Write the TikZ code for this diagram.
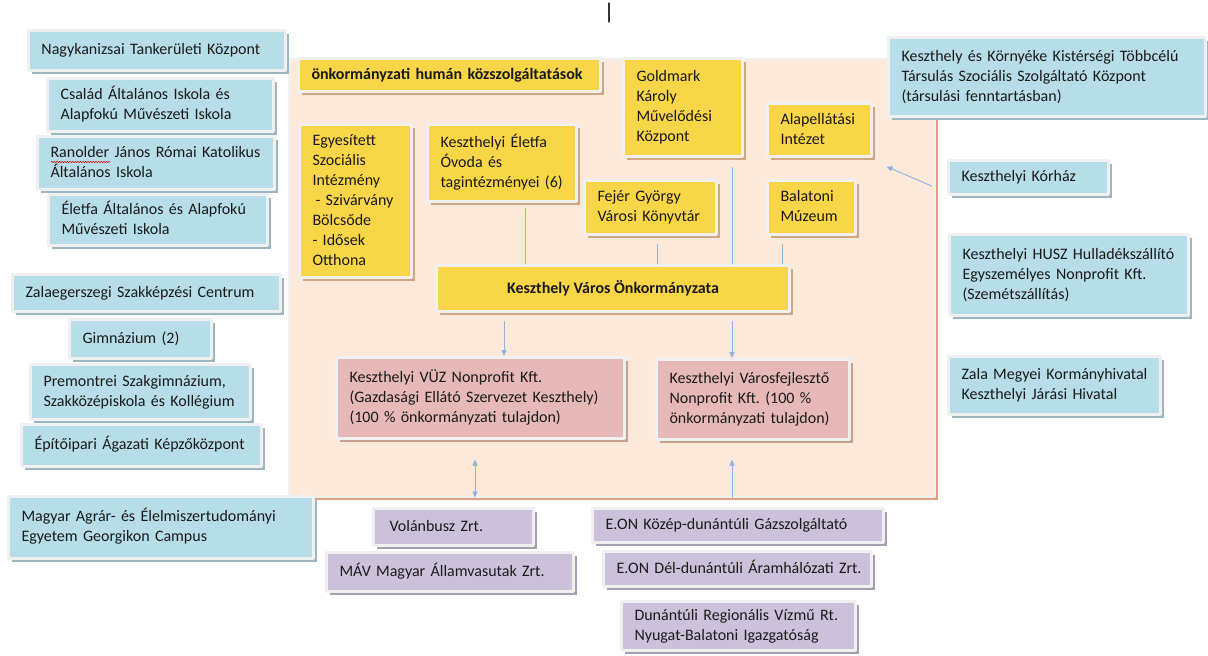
\documentclass[tikz,border=0pt]{standalone}
\usepackage{fontspec}
\setmainfont{Carlito}
\usetikzlibrary{arrows.meta,shadows,decorations.pathmorphing}
\frenchspacing

\definecolor{kekfill}{HTML}{B7DDE8}
\definecolor{kekarny}{HTML}{9DB7C1}
\definecolor{sargafill}{HTML}{F9D648}
\definecolor{sargaarny}{HTML}{D1A684}
\definecolor{rozsafill}{HTML}{E6B9B8}
\definecolor{rozsaarny}{HTML}{C8A08F}
\definecolor{lilafill}{HTML}{CCC1DA}
\definecolor{lilaarny}{HTML}{A59DB0}
\definecolor{panelfill}{HTML}{FDE9DA}
\definecolor{panelarny}{HTML}{D8A37E}
\definecolor{keret}{HTML}{F0F0F0}
\definecolor{nyilszin}{HTML}{8DB3E2}
\definecolor{szoveg}{HTML}{1A1A1A}

% egy dobozon belul a sorok (nem tordelodnek)
\newcommand{\sorok}[1]{\begin{tabular}{@{}l@{}}#1\end{tabular}}

\begin{document}
\begin{tikzpicture}[
      % pixel koordinatak, y lefele
      x=1pt,
      y=-1pt,
      >={Triangle[length=6pt,width=5pt]},
      line cap=round,
      line join=round,
      doboz/.style={draw=keret, line width=3pt, inner xsep=13pt, inner ysep=2pt,
        align=left, text=szoveg, font=\fontsize{16}{20}\selectfont},
      vastag/.style={font=\fontsize{16}{20}\selectfont\bfseries},
      kek/.style={doboz, fill=kekfill,
        drop shadow={shadow xshift=3.5pt, shadow yshift=-3.5pt, fill=kekarny, opacity=1}},
      sarga/.style={doboz, fill=sargafill,
        drop shadow={shadow xshift=3.5pt, shadow yshift=-3.5pt, fill=sargaarny, opacity=1}},
      rozsa/.style={doboz, fill=rozsafill,
        drop shadow={shadow xshift=3.5pt, shadow yshift=-3.5pt, fill=rozsaarny, opacity=1}},
      lila/.style={doboz, fill=lilafill,
        drop shadow={shadow xshift=3.5pt, shadow yshift=-3.5pt, fill=lilaarny, opacity=1}},
      hatter/.style={fill=panelfill, draw=keret, line width=2pt, inner sep=0pt,
        drop shadow={shadow xshift=3pt, shadow yshift=-3pt, fill=panelarny, opacity=1}},
      vonal/.style={draw=nyilszin, line width=0.9pt},
    ]

    \useasboundingbox (0,0) rectangle (1208,656);

    % kurzor a lap tetejen
    \draw[line width=1.2pt, black!80] (609,3) -- (609,22);

    % az onkormanyzati panel
    \node[hatter, minimum width=646pt, minimum height=438pt] (panel) at (611.5,277.5) {};

    % bal oldal: oktatasi intezmenyek
    \node[kek, minimum width=257pt, minimum height=40pt, text width=231pt] (tankerulet) at (157,50.5)
      {\sorok{Nagykanizsai Tankerületi Központ}};
    \node[kek, minimum width=226pt, minimum height=53pt, text width=200pt] (csalad) at (160.5,105)
      {\sorok{Család Általános Iskola és\\Alapfokú Művészeti Iskola}};
    \node[kek, minimum width=237pt, minimum height=53pt, text width=211pt] (ranolder) at (156,163)
      {\sorok{Ranolder János Római Katolikus\\Általános Iskola}};
    \node[kek, minimum width=219pt, minimum height=51pt, text width=193pt] (eletfa) at (158,220)
      {\sorok{Életfa Általános és Alapfokú\\Művészeti Iskola}};
    \node[kek, minimum width=268pt, minimum height=37pt, text width=242pt] (szakkepzes) at (146.5,293)
      {\sorok{Zalaegerszegi Szakképzési Centrum}};
    \node[kek, minimum width=142pt, minimum height=39pt, text width=116pt] (gimnazium) at (140.5,339)
      {\sorok{Gimnázium (2)}};
    \node[kek, minimum width=220pt, minimum height=55pt, text width=194pt] (premontrei) at (140.5,392)
      {\sorok{Premontrei Szakgimnázium,\\Szakközépiskola és Kollégium}};
    \node[kek, minimum width=240pt, minimum height=42pt, text width=214pt] (epitoipari) at (141.5,445.5)
      {\sorok{Építőipari Ágazati Képzőközpont}};
    \node[kek, minimum width=305pt, minimum height=62pt, text width=279pt] (georgikon) at (161,527.5)
      {\sorok{Magyar Agrár- és Élelmiszertudományi\\Egyetem Georgikon Campus}};

    % helyesirasi alahuzas
    \draw[red!85!black, line width=0.5pt, decorate,
      decoration={snake, amplitude=0.7pt, segment length=2.6pt}] (51,162) -- (110,162);

    % jobb oldal
    \node[kek, minimum width=317pt, minimum height=79pt, text width=291pt] (kisterseg) at (1047,77)
      {\sorok{Keszthely és Környéke Kistérségi Többcélú\\Társulás Szociális Szolgáltató Központ\\(társulási fenntartásban)}};
    \node[kek, minimum width=160pt, minimum height=34pt, text width=134pt] (korhaz) at (1028.5,177.5)
      {\sorok{Keszthelyi Kórház}};
    \node[kek, minimum width=239pt, minimum height=81pt, text width=213pt] (husz) at (1069,275)
      {\sorok{Keszthelyi HUSZ Hulladékszállító\\Egyszemélyes Nonprofit Kft.\\(Szemétszállítás)}};
    \node[kek, minimum width=212pt, minimum height=58pt, text width=186pt] (kormanyhivatal) at (1054.5,385.5)
      {\sorok{Zala Megyei Kormányhivatal\\Keszthelyi Járási Hivatal}};

    % kozmuszolgaltatok
    \node[lila, minimum width=160pt, minimum height=37pt, text width=128pt] (volanbusz) at (453.5,527)
      {\sorok{Volánbusz Zrt.}};
    \node[lila, minimum width=247pt, minimum height=39pt, text width=221pt] (mav) at (450,572)
      {\sorok{MÁV Magyar Államvasutak Zrt.}};
    \node[lila, minimum width=291pt, minimum height=34pt, text width=265pt] (eongaz) at (738,525.5)
      {\sorok{E.ON Közép-dunántúli Gázszolgáltató}};
    \node[lila, minimum width=268pt, minimum height=35pt, text width=242pt] (eonaram) at (737.5,569)
      {\sorok{E.ON Dél-dunántúli Áramhálózati Zrt.}};
    \node[lila, minimum width=234pt, minimum height=49pt, text width=208pt] (vizmu) at (738.5,626)
      {\sorok{Dunántúli Regionális Vízmű Rt.\\Nyugat-Balatoni Igazgatóság}};

    % humán közszolgáltatások
    \node[sarga, vastag, minimum width=302pt, minimum height=33pt, text width=276pt] (human) at (449.5,75)
      {\sorok{önkormányzati humán közszolgáltatások}};
    \node[sarga, minimum width=112pt, minimum height=153pt, text width=86pt] (szocialis) at (355.5,201)
      {\sorok{Egyesített\\Szociális\\Intézmény\\\hspace{3pt}- Szivárvány\\Bölcsőde\\- Idősek\\Otthona}};
    \node[sarga, minimum width=149pt, minimum height=77pt, text width=123pt] (ovoda) at (502,163)
      {\sorok{Keszthelyi Életfa\\Óvoda és\\tagintézményei (6)}};
    \node[sarga, minimum width=119pt, minimum height=98pt, text width=93pt] (goldmark) at (683,107.5)
      {\sorok{Goldmark\\Károly\\Művelődési\\Központ}};
    \node[sarga, minimum width=104pt, minimum height=53pt, text width=78pt] (alapellatas) at (819.5,130)
      {\sorok{Alapellátási\\Intézet}};
    \node[sarga, minimum width=132pt, minimum height=54pt, text width=106pt] (konyvtar) at (650.5,207.5)
      {\sorok{Fejér György\\Városi Könyvtár}};
    \node[sarga, minimum width=88pt, minimum height=54pt, text width=62pt] (muzeum) at (811.5,207.5)
      {\sorok{Balatoni\\Múzeum}};
    \node[sarga, vastag, minimum width=353pt, minimum height=46pt] (onkormanyzat) at (613,288.5)
      {Keszthely Város Önkormányzata};

    % gazdasagi tarsasagok
    \node[rozsa, minimum width=288pt, minimum height=81pt, text width=262pt] (vuz) at (480.5,398)
      {\sorok{Keszthelyi VÜZ Nonprofit Kft.\\(Gazdasági Ellátó Szervezet Keszthely)\\(100 \% önkormányzati tulajdon)}};
    \node[rozsa, minimum width=193pt, minimum height=80pt, text width=167pt] (varosfejleszto) at (753,399.5)
      {\sorok{Keszthelyi Városfejlesztő\\Nonprofit Kft. (100 \%\\önkormányzati tulajdon)}};

    % intezmenyek bekotese az onkormanyzathoz
    \coordinate (ovodalab)    at ([xshift=23pt,yshift=-5.5pt]ovoda.south);
    \coordinate (goldmarklab) at ([xshift=49pt,yshift=-9.5pt]goldmark.south);
    \coordinate (konyvtarlab) at ([xshift=6.5pt,yshift=-8.5pt]konyvtar.south);
    \coordinate (muzeumlab)   at ([xshift=-29.5pt,yshift=-8.5pt]muzeum.south);
    \draw[vonal] (ovodalab) -- (ovodalab |- onkormanyzat.north);
    \draw[vonal] (goldmarklab) -- (goldmarklab |- onkormanyzat.north);
    \draw[vonal] (konyvtarlab) -- (konyvtarlab |- onkormanyzat.north);
    \draw[vonal] (muzeumlab) -- (muzeumlab |- onkormanyzat.north);

    % nyilak a tarsasagokhoz
    \coordinate (vuzfej)   at ([xshift=-109pt,yshift=-8.5pt]onkormanyzat.south);
    \coordinate (varosfej) at ([xshift=119pt,yshift=-8.5pt]onkormanyzat.south);
    \draw[vonal,->] (vuzfej) -- (vuzfej |- vuz.north);
    \draw[vonal,->] (varosfej) -- (varosfej |- varosfejleszto.north);

    \coordinate (vuzalja)   at ([xshift=-5.5pt,yshift=-19.5pt]vuz.south);
    \coordinate (varosalja) at ([xshift=-21pt,yshift=-18.5pt]varosfejleszto.south);
    \draw[vonal,<->] (vuzalja) -- (vuzalja |- panel.south);
    \draw[vonal,->] (varosalja |- panel.south) -- (varosalja);

    % korhaz nyila
    \coordinate (korhazveg) at ([xshift=-15.5pt,yshift=-8.5pt]korhaz.west);
    \coordinate (alapsarok) at ([xshift=13.5pt,yshift=-8.5pt]alapellatas.south east);
    \draw[vonal,->] (korhazveg) -- (alapsarok);

\end{tikzpicture}
\end{document}
